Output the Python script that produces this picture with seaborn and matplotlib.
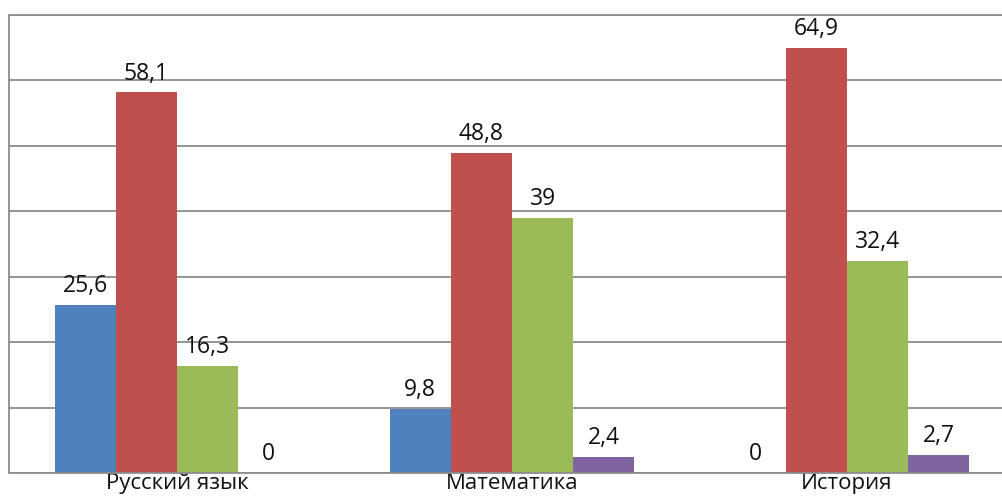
import matplotlib
matplotlib.use("Agg")
import matplotlib.pyplot as plt
import pandas as pd
import seaborn as sns

subjects = ["Русский язык", "Математика", "История"]
series = ["Ряд 1", "Ряд 2", "Ряд 3", "Ряд 4"]
blue_vals = [25.6, 9.8, 0]
red_vals = [58.1, 48.8, 64.9]
green_vals = [16.3, 39, 32.4]
purple_vals = [0, 2.4, 2.7]
colors = ["#4F81BD", "#C0504D", "#9BBB59", "#8064A2"]

rows = []
for name, vals in zip(series, [blue_vals, red_vals, green_vals, purple_vals]):
    for subj, v in zip(subjects, vals):
        rows.append({"subject": subj, "series": name, "value": v})
df = pd.DataFrame(rows)

sns.set_style("white")
plt.rcParams["font.family"] = ["Open Sans", "DejaVu Sans"]

fig = plt.figure(figsize=(10.03, 4.97), dpi=100)
ax = fig.add_axes([9.5 / 1003, 24 / 497, (1003 - 9.5) / 1003, (473 - 14.5) / 497])

sns.barplot(data=df, x="subject", y="value", hue="series", palette=colors,
            width=0.73, gap=0, saturation=1, legend=False, ax=ax,
            edgecolor="none", linewidth=0)

for cont in ax.containers:
    labels = [f"{b.get_height():g}".replace(".", ",") for b in cont]
    ax.bar_label(cont, labels=labels, padding=5, fontsize=16.5, color="#111111")

ax.set_ylim(0, 70)
ax.set_xlim(-0.5, 2.466)
ax.set_yticks(range(0, 71, 10))
ax.set_yticklabels([])
ax.yaxis.grid(True, color="#8c8c8c", linewidth=1.3)
ax.set_axisbelow(True)
ax.tick_params(axis="both", length=0)
ax.tick_params(axis="x", labelsize=16, pad=0, labelcolor="#111111")
ax.set_xlabel("")
ax.set_ylabel("")
ax.spines["right"].set_visible(False)
for side in ["left", "bottom", "top"]:
    ax.spines[side].set_color("#8c8c8c")
    ax.spines[side].set_linewidth(1.3)

fig.savefig("out.png", dpi=100)
